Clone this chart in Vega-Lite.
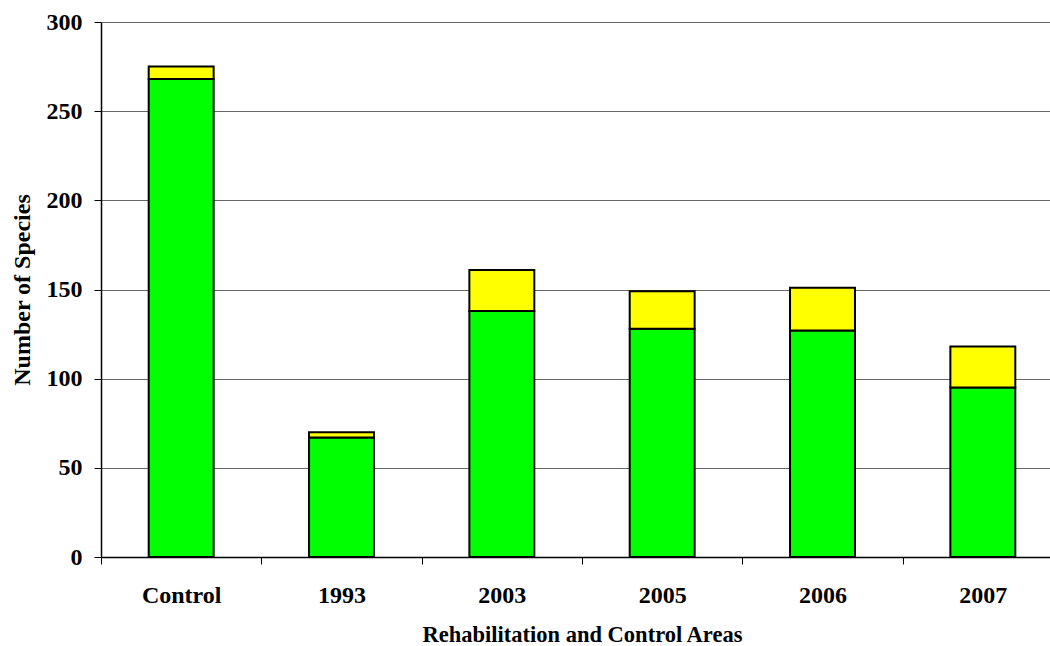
{
  "$schema": "https://vega.github.io/schema/vega-lite/v6.json",
  "width": 949,
  "height": 535,
  "autosize": "none",
  "padding": {"left": 101, "top": 22, "right": 0, "bottom": 89},
  "background": "white",
  "config": {
    "view": {"stroke": null},
    "font": "Liberation Serif",
    "axis": {"labelFont": "Liberation Serif", "titleFont": "Liberation Serif", "labelColor": "black", "titleColor": "black", "labelFontWeight": "bold", "titleFontWeight": "bold"}
  },
  "data": {
    "values": [
      {"area": "Control", "part": "A", "species": 268},
      {"area": "Control", "part": "B", "species": 7},
      {"area": "1993", "part": "A", "species": 67},
      {"area": "1993", "part": "B", "species": 3},
      {"area": "2003", "part": "A", "species": 138},
      {"area": "2003", "part": "B", "species": 23},
      {"area": "2005", "part": "A", "species": 128},
      {"area": "2005", "part": "B", "species": 21},
      {"area": "2006", "part": "A", "species": 127},
      {"area": "2006", "part": "B", "species": 24},
      {"area": "2007", "part": "A", "species": 95},
      {"area": "2007", "part": "B", "species": 23}
    ]
  },
  "mark": {"type": "bar", "width": {"band": 0.405}, "stroke": "black", "strokeWidth": 2},
  "encoding": {
    "x": {
      "field": "area",
      "type": "nominal",
      "sort": ["Control", "1993", "2003", "2005", "2006", "2007"],
      "scale": {"paddingInner": 0, "paddingOuter": 0, "range": [0, 962]},
      "axis": {
        "title": "Rehabilitation and Control Areas",
        "titleFontSize": 22.5,
        "titleX": 481,
        "titleY": 84,
        "titleBaseline": "alphabetic",
        "titleAnchor": null,
        "labelAngle": 0,
        "labelFontSize": 24,
        "labelBaseline": "alphabetic",
        "labelPadding": 38,
        "tickBand": "extent",
        "tickSize": 7,
        "tickColor": "black",
        "domainColor": "black",
        "domainWidth": 1.5,
        "grid": false
      }
    },
    "y": {
      "field": "species",
      "type": "quantitative",
      "stack": "zero",
      "scale": {"domain": [0, 300], "nice": false},
      "axis": {
        "title": "Number of Species",
        "titleFontSize": 24,
        "titleAngle": -90,
        "titleX": -79,
        "titleY": 267.5,
        "titleBaseline": "middle",
        "titleAlign": "center",
        "values": [0, 50, 100, 150, 200, 250, 300],
        "labelFontSize": 24,
        "labelPadding": 12,
        "tickSize": 7,
        "tickColor": "black",
        "domainColor": "black",
        "domainWidth": 1.5,
        "grid": true,
        "gridColor": "#666666",
        "gridWidth": 1
      }
    },
    "color": {
      "field": "part",
      "type": "nominal",
      "scale": {"domain": ["A", "B"], "range": ["#00FF00", "#FFFF00"]},
      "legend": null
    },
    "order": {"field": "part", "type": "nominal", "sort": "ascending"}
  }
}
